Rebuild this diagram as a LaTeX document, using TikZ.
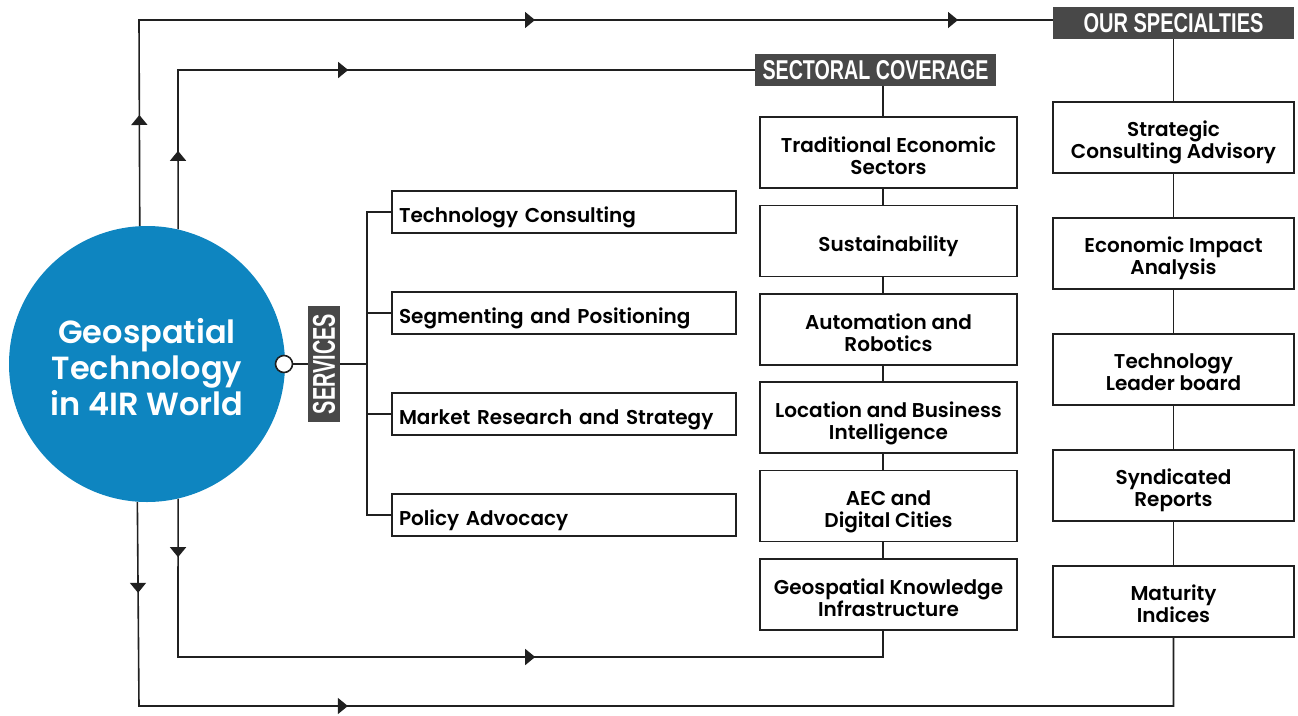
\documentclass[tikz,border=0pt]{standalone}
\usepackage{fontspec}
\setmainfont{Poppins}[BoldFont={* SemiBold}]
\newfontfamily\headfont{Liberation Sans}
\usetikzlibrary{arrows.meta,decorations.markings,calc,backgrounds}
\definecolor{geoblue}{RGB}{14,133,192}
\definecolor{labelgray}{RGB}{72,72,72}
\definecolor{linegray}{RGB}{32,32,32}
\newcommand\mytri{\arrow{Triangle[length=10pt,width=16pt]}}
\newcommand\ctxt[1]{\raisebox{-6.3pt}[\height][\depth]{\begin{tabular}{@{}c@{}}#1\end{tabular}}}
\newcommand\ptxt[1]{\raisebox{-5.8pt}[\height][\depth]{\begin{tabular}{@{}c@{}}#1\end{tabular}}}
\newcommand\ltxt[1]{\raisebox{-5.6pt}[\height][\depth]{\begin{tabular}{@{}l@{}}#1\end{tabular}}}
\newcommand\circtxt[1]{\raisebox{-8pt}[\height][\depth]{\begin{tabular}{@{}c@{}}#1\end{tabular}}}
\begin{document}
\begin{tikzpicture}[x=1pt,y=-1pt,
  conn/.style={draw=linegray,line width=1.6pt},
  boxstyle/.style={draw=linegray,line width=1.6pt,fill=white,font=\fontsize{20}{22}\selectfont\bfseries},
  sector/.style={boxstyle,minimum width=257pt,minimum height=71pt,inner sep=0pt},
  spec/.style={boxstyle,minimum width=241pt,minimum height=71pt,inner sep=0pt},
  service/.style={boxstyle,minimum width=344pt,minimum height=42pt,text width=330pt,align=left,inner xsep=7pt,inner ysep=0pt},
  header/.style={fill=labelgray,text=white,inner sep=0pt},
]
\useasboundingbox (0,0) rectangle (1298,715);

% central circle
\node[circle, fill=geoblue, minimum size=276pt, inner sep=0pt, text=white,
      font=\fontsize{32}{36}\selectfont\bfseries] (circ) at (147,364) {\circtxt{Geospatial\\Technology\\in 4IR World}};
\node[circle, draw=linegray, fill=white, line width=1.6pt, minimum size=17pt, inner sep=0pt] (dot) at (284,364) {};

% services
\node[header, minimum width=32pt, minimum height=116pt] (svl) at (324,364)
  {\rotatebox{90}{\resizebox{100pt}{22pt}{\headfont\bfseries SERVICES}}};
\node[service] (sv1) at (564,212) {\ltxt{Technology Consulting}};
\node[service] (sv2) at (564,313) {\ltxt{Segmenting and Positioning}};
\node[service] (sv3) at (564,414) {\ltxt{Market Research and Strategy}};
\node[service] (sv4) at (564,515) {\ltxt{Policy Advocacy}};

% sectoral coverage
\node[header, minimum width=241pt, minimum height=32pt] (sc) at (875.5,70)
  {\resizebox{226pt}{19pt}{\headfont\bfseries SECTORAL COVERAGE}};
\node[sector] (s1) at (888.5,152.5) {\ctxt{Traditional Economic\\Sectors}};
\node[sector] (s2) at (888.5,240.9) {\ctxt{Sustainability}};
\node[sector] (s3) at (888.5,329.3) {\ctxt{Automation and\\Robotics}};
\node[sector] (s4) at (888.5,417.7) {\ctxt{Location and Business\\Intelligence}};
\node[sector] (s5) at (888.5,506.1) {\ctxt{AEC and\\Digital Cities}};
\node[sector] (s6) at (888.5,594.5) {\ctxt{Geospatial Knowledge\\Infrastructure}};

% our specialties
\node[header, minimum width=241pt, minimum height=32pt] (os) at (1173.5,23)
  {\resizebox{180pt}{19pt}{\headfont\bfseries OUR SPECIALTIES}};
\node[spec] (p1) at (1173.5,137.5) {\ptxt{Strategic\\Consulting Advisory}};
\node[spec] (p2) at (1173.5,253.5) {\ptxt{Economic Impact\\Analysis}};
\node[spec] (p3) at (1173.5,369.5) {\ptxt{Technology\\Leader board}};
\node[spec] (p4) at (1173.5,485.5) {\ptxt{Syndicated\\Reports}};
\node[spec] (p5) at (1173.5,601.5) {\ptxt{Maturity\\Indices}};

\coordinate (brk) at (367,0);
\coordinate (spine) at (883,0);
\coordinate (tl) at (139,20);
\coordinate (itl) at (178,70);
\coordinate (ibl) at (178,657);
\coordinate (obl) at (139,706);

\begin{pgfonlayer}{background}
  % services bracket
  \draw[conn] (dot.east) -- (dot.east -| brk);
  \draw[conn] (sv1.west) -- (sv1.west -| brk) -- (sv4.west -| brk) -- (sv4.west);
  \draw[conn] (sv2.west) -- (sv2.west -| brk);
  \draw[conn] (sv3.west) -- (sv3.west -| brk);
  % sector chain
  \draw[conn] (sc.south -| spine) -- (s1.north -| spine);
  \draw[conn] (s1.south -| spine) -- (s2.north -| spine);
  \draw[conn] (s2.south -| spine) -- (s3.north -| spine);
  \draw[conn] (s3.south -| spine) -- (s4.north -| spine);
  \draw[conn] (s4.south -| spine) -- (s5.north -| spine);
  \draw[conn] (s5.south -| spine) -- (s6.north -| spine);
  % specialty chain
  \draw[conn] (os.south) -- (p1.north);
  \draw[conn] (p1.south) -- (p2.north);
  \draw[conn] (p2.south) -- (p3.north);
  \draw[conn] (p3.south) -- (p4.north);
  \draw[conn] (p4.south) -- (p5.north);
  % loops
  \draw[conn, postaction={decorate}, decoration={markings,
      mark=at position 111pt with {\mytri},
      mark=at position 602pt with {\mytri},
      mark=at position 1025pt with {\mytri}}]
    (circ.93.3) -- (tl) -- (os.west |- tl);
  \draw[conn, postaction={decorate}, decoration={markings,
      mark=at position 78.5pt with {\mytri},
      mark=at position 329.5pt with {\mytri}}]
    (circ.77) -- (itl) -- (sc.west |- itl);
  \draw[conn, postaction={decorate}, decoration={markings,
      mark=at position 58.5pt with {\mytri},
      mark=at position 515.5pt with {\mytri}}]
    (circ.283) -- (ibl) -- (ibl -| spine) -- (s6.south -| spine);
  \draw[conn, postaction={decorate}, decoration={markings,
      mark=at position 91pt with {\mytri},
      mark=at position 413pt with {\mytri}}]
    (circ.266.7) -- (obl) -- (obl -| p5.south) -- (p5.south);
\end{pgfonlayer}
\end{tikzpicture}
\end{document}
